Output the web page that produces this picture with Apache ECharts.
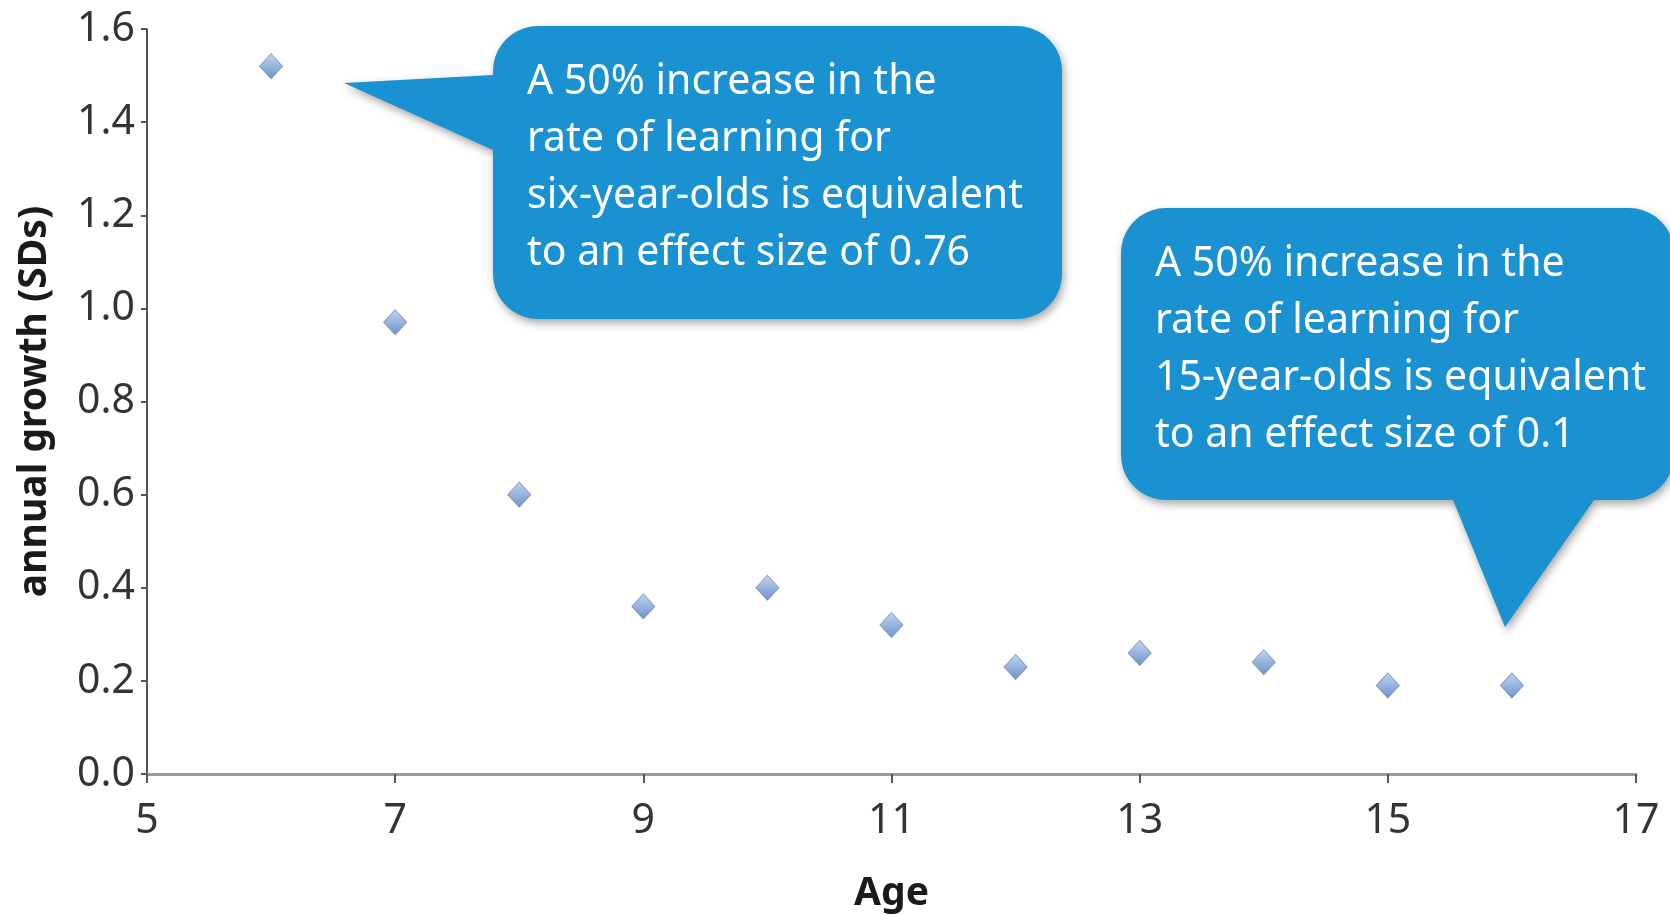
<!DOCTYPE html>
<html>
<head>
<meta charset="utf-8">
<script src="https://cdn.jsdelivr.net/npm/echarts@6/dist/echarts.min.js"></script>
<style>
  html, body { margin: 0; padding: 0; background: #fff; }
  #chart { width: 1670px; height: 915px; }
</style>
</head>
<body>
<div id="chart"></div>
<script>
// data
const ages = [6, 7, 8, 9, 10, 11, 12, 13, 14, 15, 16];
const growth = [1.52, 0.97, 0.60, 0.36, 0.40, 0.32, 0.23, 0.26, 0.24, 0.19, 0.19];

const note6 = ['A 50% increase in the', 'rate of learning for', 'six-year-olds is equivalent', 'to an effect size of 0.76'];
const note15 = ['A 50% increase in the', 'rate of learning for', '15-year-olds is equivalent', 'to an effect size of 0.1'];

const FONT = '"Noto Sans", "Open Sans", sans-serif';
const BLUE = '#1a91d0';

// outline of a rounded box with a pointer; tail points go in on the given side
function bubblePoints(L, T, R, B, r, side, tail) {
    const pts = [];
    const arc = (cx, cy, a0) => {
        for (let i = 0; i <= 10; i++) {
            const a = (a0 + 90 * i / 10) * Math.PI / 180;
            pts.push([cx + r * Math.cos(a), cy + r * Math.sin(a)]);
        }
    };
    arc(R - r, T + r, -90);
    arc(R - r, B - r, 0);
    if (side === 'bottom') tail.forEach(p => pts.push(p));
    arc(L + r, B - r, 90);
    if (side === 'left') tail.forEach(p => pts.push(p));
    arc(L + r, T + r, 180);
    return pts;
}

const bubbleStyle = {
    fill: BLUE,
    shadowColor: 'rgba(0,0,0,0.35)',
    shadowBlur: 8,
    shadowOffsetX: 2,
    shadowOffsetY: 4
};

const chart = echarts.init(document.getElementById('chart'));

chart.setOption({
    backgroundColor: '#fff',
    animation: false,
    grid: { left: 147, right: 34, top: 29, bottom: 141, outerBoundsMode: 'none', containLabel: false },
    xAxis: {
        type: 'value',
        min: 5,
        max: 17,
        interval: 2,
        name: 'Age',
        nameLocation: 'middle',
        nameGap: 100,
        nameTextStyle: { fontFamily: FONT, fontSize: 39, fontWeight: 'bold', color: '#1a1a1a' },
        splitLine: { show: false },
        axisLine: { lineStyle: { color: '#9c9c9c', width: 3 } },
        axisTick: { show: true, length: 9, lineStyle: { color: '#555', width: 2 } },
        axisLabel: { fontFamily: FONT, fontSize: 41, color: '#333', margin: 27 }
    },
    yAxis: {
        type: 'value',
        min: 0,
        max: 1.6,
        interval: 0.2,
        name: 'annual growth (SDs)',
        nameLocation: 'middle',
        nameGap: 93,
        nameTextStyle: { fontFamily: FONT, fontSize: 39, fontWeight: 'bold', color: '#1a1a1a' },
        splitLine: { show: false },
        axisLine: { show: true, lineStyle: { color: '#555', width: 2 } },
        axisTick: { show: true, length: 6, lineStyle: { color: '#555', width: 2 } },
        axisLabel: {
            fontFamily: FONT, fontSize: 41, color: '#333', margin: 12,
            formatter: v => v.toFixed(1)
        }
    },
    series: [{
        type: 'scatter',
        symbol: 'diamond',
        symbolSize: [23, 25],
        data: ages.map((a, i) => [a, growth[i]]),
        itemStyle: {
            color: {
                type: 'linear', x: 0, y: 0, x2: 0, y2: 1,
                colorStops: [
                    { offset: 0, color: '#b3ccef' },
                    { offset: 1, color: '#4478bd' }
                ]
            },
            borderColor: '#7890b0',
            borderWidth: 1
        },
        z: 3
    }],
    graphic: [
        {
            type: 'polygon',
            shape: { points: bubblePoints(493, 26, 1062, 319, 45, 'left', [[493, 150], [344, 83], [493, 75]]) },
            style: bubbleStyle,
            z: 10
        },
        {
            type: 'text',
            x: 527,
            y: 54,
            style: { text: note6.join('\n'), fontFamily: FONT, fontSize: 41, lineHeight: 57, fill: '#fff' },
            z: 11
        },
        {
            type: 'polygon',
            shape: { points: bubblePoints(1121, 208, 1674, 500, 45, 'bottom', [[1594, 500], [1505, 627], [1453, 500]]) },
            style: bubbleStyle,
            z: 10
        },
        {
            type: 'text',
            x: 1155,
            y: 236,
            style: { text: note15.join('\n'), fontFamily: FONT, fontSize: 41, lineHeight: 57, fill: '#fff' },
            z: 11
        }
    ]
});
</script>
</body>
</html>
